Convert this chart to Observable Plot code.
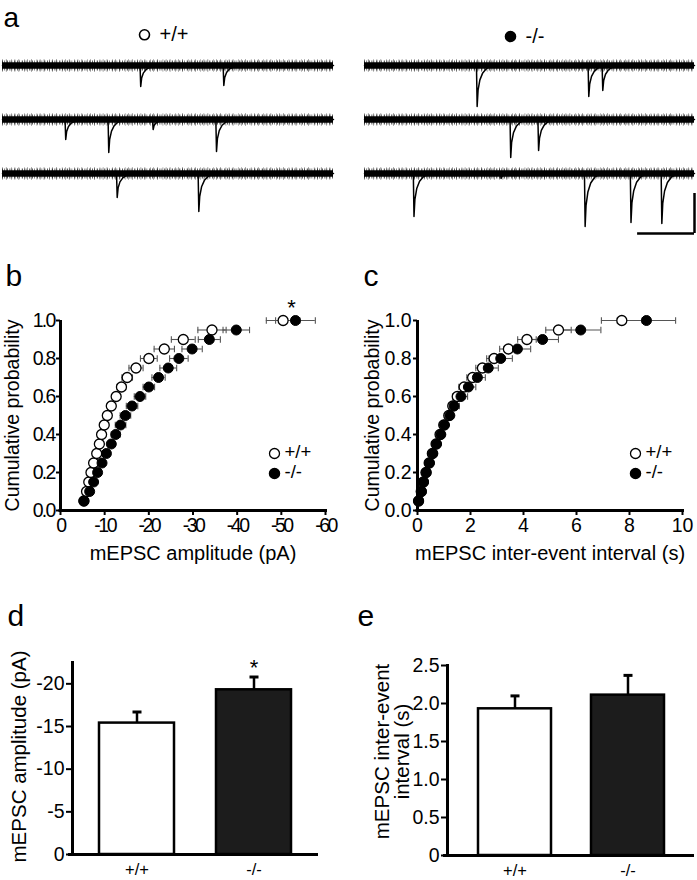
<!DOCTYPE html>
<html><head><meta charset="utf-8">
<script src="https://cdn.jsdelivr.net/npm/d3@7"></script>
<script src="https://cdn.jsdelivr.net/npm/@observablehq/plot@0.6"></script>
<style>
body{margin:0;background:#fff;}
#fig{position:relative;width:697px;height:880px;overflow:hidden;background:#fff;font-family:"Liberation Sans",Arial,Helvetica,sans-serif;}
.panel{position:absolute;}
.panel svg{overflow:visible;}
#pb g[aria-label="x-axis tick label"] text{letter-spacing:-2.5px;}
#pb g[aria-label="y-axis tick label"] text{letter-spacing:-1.8px;}
</style>
</head><body>
<div id="fig">
  <div class="panel" id="paL" style="left:0;top:0"></div>
  <div class="panel" id="paR" style="left:348px;top:0"></div>
  <div class="panel" id="pb" style="left:0;top:250px"></div>
  <div class="panel" id="pc" style="left:348px;top:250px"></div>
  <div class="panel" id="pd" style="left:0;top:595px"></div>
  <div class="panel" id="pe" style="left:348px;top:595px"></div>
</div>
<script>
// ---------------- DATA ----------------
const genotypes = ["+/+", "-/-"];

// Panel a: example sweeps (3 per genotype); event onset times (ms) and peak currents (pA)
const sweepMs = 2900;
const wtEventTimes = [[1205, 1933], [548, 925, 1314, 1869], [999, 1714]];
const wtEventAmps  = [[-10.5, -10], [-10, -16.5, -5, -16], [-12, -19]];
const koEventTimes = [[984, 1965, 2088], [1279, 1524], [429, 1194, 1933, 2336, 2607]];
const koEventAmps  = [[-20.5, -15.5, -12.5], [-19, -15.5], [-21.5, -2.5, -26.5, -24.5, -25]];
// mEPSC waveform: time after onset (ms) and fraction of peak
const eventShapeMs   = [0, 6, 14, 30, 55, 90, 140];
const eventShapeFrac = [0, 1, 0.6, 0.35, 0.18, 0.07, 0];
const scaleBarMs = 500;
const scaleBarPA = 20;

// Panel b: cumulative probability of mEPSC amplitude (pA), mean ± SEM
const cumProb = [0.05,0.10,0.15,0.20,0.25,0.30,0.35,0.40,0.45,0.50,0.55,0.60,0.65,0.70,0.75,0.80,0.85,0.90,0.95,1.00];
const ampWT    = [-5.3,-5.9,-6.4,-6.9,-7.5,-8.2,-8.8,-9.3,-9.9,-10.6,-11.5,-12.6,-13.8,-15.1,-17.1,-20.0,-23.5,-27.8,-34.3,-50.4];
const ampWTErr = [0.2,0.2,0.2,0.2,0.3,0.3,0.3,0.4,0.4,0.5,0.6,0.8,1.0,1.2,1.6,1.9,2.3,2.7,3.2,3.8];
const ampKO    = [-5.3,-6.6,-7.5,-8.4,-9.4,-10.4,-11.5,-12.5,-13.6,-14.7,-16.2,-18.0,-20.0,-22.2,-24.4,-26.8,-29.8,-33.7,-39.8,-53.2];
const ampKOErr = [0.2,0.3,0.3,0.4,0.5,0.6,0.8,1.0,1.2,1.2,1.3,1.3,1.3,1.5,1.9,2.1,2.3,2.5,3.0,4.5];
const ampXTicks = [0,-10,-20,-30,-40,-50,-60];
const probTicks = [0,0.2,0.4,0.6,0.8,1.0];

// Panel c: cumulative probability of inter-event interval (s), mean ± SEM
const iviWT    = [0.04,0.14,0.22,0.32,0.44,0.56,0.70,0.85,0.99,1.18,1.33,1.50,1.76,2.08,2.45,2.89,3.43,4.13,5.32,7.71];
const iviWTErr = [0.01,0.02,0.03,0.04,0.05,0.06,0.07,0.08,0.10,0.12,0.15,0.18,0.20,0.22,0.25,0.28,0.33,0.35,0.48,0.77];
const iviKO    = [0.04,0.15,0.23,0.33,0.45,0.58,0.72,0.88,1.02,1.22,1.38,1.64,1.92,2.26,2.67,3.14,3.77,4.72,6.16,8.64];
const iviKOErr = [0.01,0.02,0.03,0.04,0.05,0.06,0.07,0.08,0.10,0.13,0.20,0.25,0.28,0.30,0.38,0.44,0.50,0.60,0.76,1.10];
const iviXTicks = [0,2,4,6,8,10];

// Panel d: mean mEPSC amplitude (pA)
const ampMean = [-15.4, -19.3];
const ampSEM  = [1.3, 1.5];
const ampSig  = ["", "*"];
const ampYTicks = [0,-5,-10,-15,-20];
// Panel e: mean inter-event interval (s)
const iviMean = [1.93, 2.11];
const iviSEM  = [0.17, 0.26];
const iviYTicks = [0,0.5,1.0,1.5,2.0,2.5];

// ---------------- HELPERS ----------------
const FONT = "Liberation Sans, Arial, Helvetica, sans-serif";
const vbar = {draw(ctx, size){ const r = Math.sqrt(size/Math.PI); ctx.moveTo(0,-r); ctx.lineTo(0,r); }};
const hbar = {draw(ctx, size){ const r = Math.sqrt(size/Math.PI); ctx.moveTo(-r,0); ctx.lineTo(r,0); }};
const GRAY = "#555";

function tracePlot(times, amps, opts) {
  const rowGap = 27; // pA between stacked sweeps (layout)
  const pts = [];
  times.forEach((ts, k) => {
    pts.push({k, t: 0, i: 0});
    ts.forEach((t0, j) => {
      const next = j + 1 < ts.length ? ts[j+1] : sweepMs;
      eventShapeMs.forEach((dt, m) => {
        if (t0 + dt < next) pts.push({k, t: t0 + dt, i: amps[k][j] * eventShapeFrac[m]});
      });
    });
    pts.push({k, t: sweepMs, i: 0});
  });
  const rows = times.map((_, k) => ({k}));
  const Y = d => d.i - d.k * rowGap;
  const band = (w, dash, op) => Plot.ruleY(rows, {y: d => -d.k*rowGap, x1: () => 0, x2: () => sweepMs, stroke: "black", strokeWidth: w, strokeDasharray: dash, strokeOpacity: op});
  const marks = [
    band(6.5, null, 1),
    band(10, "0.8,1.3,0.6,2.1,1,1.7", 0.8),
    band(12.5, "0.6,3.3,0.7,4.9,0.5,2.6", 0.6),
    Plot.line(pts, {x: "t", y: Y, z: "k", stroke: "black", strokeWidth: 1.5, curve: "linear"}),
    Plot.dot([opts.label], {frameAnchor: "top-left", dx: opts.symDx, dy: opts.symDy, r: 5, fill: opts.filled ? "black" : "white", stroke: "black", strokeWidth: 1.6}),
    Plot.text([opts.label], {frameAnchor: "top-left", dx: opts.txtDx, dy: opts.symDy, text: d => d, textAnchor: "start", lineAnchor: "middle", fontSize: 20, fill: "black"})
  ];
  if (opts.panel) marks.push(Plot.text([opts.panel], {frameAnchor: "top-left", dx: 1, dy: -28, text: d => d, textAnchor: "start", lineAnchor: "bottom", fontSize: 28, fill: "black"}));
  if (opts.bar) {
    const lastRow = times.length - 1;
    const barTop = -10 - lastRow*rowGap, barBot = barTop - scaleBarPA;
    marks.push(Plot.ruleX([scaleBarPA], {x: () => sweepMs, y1: () => barTop, y2: () => barBot, stroke: "black", strokeWidth: 2.5}));
    marks.push(Plot.ruleY([scaleBarMs], {y: () => barBot, x1: () => sweepMs - scaleBarMs, x2: () => sweepMs, stroke: "black", strokeWidth: 2.5}));
  }
  return Plot.plot({
    width: opts.width, height: 240,
    marginTop: 54, marginBottom: 24, marginLeft: opts.ml, marginRight: opts.mr,
    x: {domain: [0, sweepMs], axis: null},
    y: {domain: [-2*rowGap - 21.5, 5.5], axis: null},
    style: {fontFamily: FONT, background: "transparent"},
    marks
  });
}

function cumPlot(o) {
  const wt = cumProb.map((p, i) => ({p, x: o.wt[i], e: o.wtErr[i]}));
  const ko = cumProb.map((p, i) => ({p, x: o.ko[i], e: o.koErr[i]}));
  const errMarks = rows => [
    Plot.ruleY(rows, {y: "p", x1: d => d.x - d.e, x2: d => d.x + d.e, stroke: GRAY, strokeWidth: 1.1}),
    Plot.dot(rows, {y: "p", x: d => d.x - d.e, symbol: vbar, r: 3.2, fill: "none", stroke: GRAY, strokeWidth: 1.1}),
    Plot.dot(rows, {y: "p", x: d => d.x + d.e, symbol: vbar, r: 3.2, fill: "none", stroke: GRAY, strokeWidth: 1.1})
  ];
  const marks = [
    ...errMarks(wt), ...errMarks(ko),
    Plot.dot(wt, {x: "x", y: "p", r: 5, fill: "white", stroke: "black", strokeWidth: 1.3}),
    Plot.dot(ko, {x: "x", y: "p", r: 5, fill: "black", stroke: "black", strokeWidth: 1}),
    Plot.ruleX([0], {strokeWidth: 3, insetBottom: -1.5, stroke: "black"}),
    Plot.ruleY([0], {strokeWidth: 3, insetLeft: -1.5, insetRight: -2, stroke: "black"}),
    Plot.axisX({ticks: o.xTicks, tickFormat: d => String(d), tickSize: 5, tickPadding: 3, fontSize: 19.5, strokeWidth: 2, label: null}),
    Plot.axisY({ticks: probTicks, tickFormat: d => d.toFixed(1), tickSize: 4, tickPadding: 2, fontSize: 19.5, strokeWidth: 2, label: null}),
    Plot.text([o.xTitle], {frameAnchor: "bottom", dy: 43, text: d => d, textAnchor: "middle", lineAnchor: "middle", fontSize: 20, fill: "black"}),
    Plot.text(["Cumulative probability"], {frameAnchor: "left", dx: o.yTitleDx, rotate: -90, text: d => d, textAnchor: "middle", lineAnchor: "middle", fontSize: 19.5, fill: "black"}),
    Plot.text([o.panel], {frameAnchor: "top-left", dx: o.panelDx, dy: -35, text: d => d, textAnchor: "start", lineAnchor: "bottom", fontSize: 30, fill: "black"}),
    Plot.dot([genotypes[0]], {frameAnchor: "bottom-right", dx: o.legDx, dy: -57, r: 5, fill: "white", stroke: "black", strokeWidth: 1.3}),
    Plot.dot([genotypes[1]], {frameAnchor: "bottom-right", dx: o.legDx, dy: -37, r: 5, fill: "black", stroke: "black"}),
    Plot.text([genotypes[0]], {frameAnchor: "bottom-right", dx: o.legDx + 10, dy: -58, text: d => d, textAnchor: "start", lineAnchor: "middle", fontSize: 18.5, fill: "black"}),
    Plot.text([genotypes[1]], {frameAnchor: "bottom-right", dx: o.legDx + 10, dy: -38, text: d => d, textAnchor: "start", lineAnchor: "middle", fontSize: 18.5, fill: "black"})
  ];
  if (o.star) marks.push(Plot.text([ko[ko.length-1]], {x: "x", y: "p", text: () => o.star, dx: -4, dy: -13, fontSize: 22, fill: "black"}));
  return Plot.plot({
    width: o.width, height: 320,
    marginTop: 70, marginBottom: 60, marginLeft: o.ml, marginRight: o.mr,
    x: {domain: o.xDomain},
    y: {domain: [0, 1]},
    style: {fontFamily: FONT, background: "transparent", color: "black"},
    marks
  });
}

function barPlot(o) {
  const rows = genotypes.map((g, i) => ({g, m: o.mean[i], e: o.sem[i], s: (o.sig || [])[i] || ""}));
  const marks = [
    Plot.ruleX(rows, {x: "g", y1: "m", y2: d => d.m + Math.sign(d.m) * d.e, stroke: "black", strokeWidth: 2.5}),
    Plot.dot(rows, {x: "g", y: d => d.m + Math.sign(d.m) * d.e, symbol: hbar, r: 4.5, fill: "none", stroke: "black", strokeWidth: 3}),
    Plot.barY(rows, {x: "g", y: "m", fill: d => d.g === genotypes[0] ? "white" : "#1c1c1c", stroke: "black", strokeWidth: 2.5}),
    Plot.ruleY([0], {strokeWidth: 3, insetLeft: -4, stroke: "black"}),
    Plot.frame({anchor: "left", strokeWidth: 3, stroke: "black"}),
    Plot.axisX({tickSize: 0, tickPadding: 9, fontSize: 16.5, label: null}),
    Plot.axisY({ticks: o.yTicks, tickFormat: o.fmt, tickSize: 6, tickPadding: 2, fontSize: 19.5, strokeWidth: 2, label: null}),
    Plot.text([o.yTitle], {frameAnchor: "left", dx: o.yTitleDx, dy: o.yTitleDy, rotate: -90, text: d => d, textAnchor: "middle", lineAnchor: "middle", fontSize: 20.5, lineHeight: 1.0, fill: "black"}),
    Plot.text([o.panel], {frameAnchor: "top-left", dx: o.panelDx, dy: o.panelDy, text: d => d, textAnchor: "start", lineAnchor: "bottom", fontSize: 30, fill: "black"})
  ];
  if (o.sig) marks.push(Plot.text(rows.filter(d => d.s), {x: "g", y: d => d.m + Math.sign(d.m) * d.e, text: "s", dy: -9.5, fontSize: 22, fill: "black"}));
  return Plot.plot({
    width: o.width, height: 285,
    marginTop: o.mt, marginBottom: o.mb, marginLeft: o.ml, marginRight: o.mr,
    x: {domain: genotypes, paddingInner: o.pi, paddingOuter: o.po},
    y: {domain: o.yDomain},
    style: {fontFamily: FONT, background: "transparent", color: "black"},
    marks
  });
}

// ---------------- RENDER ----------------
document.getElementById("paL").append(tracePlot(wtEventTimes, wtEventAmps,
  {width: 348, ml: 2, mr: 15, label: genotypes[0], filled: false, symDx: 142, symDy: -19.7, txtDx: 157, panel: "a"}));
document.getElementById("paR").append(tracePlot(koEventTimes, koEventAmps,
  {width: 349, ml: 16, mr: 3, label: genotypes[1], filled: true, symDx: 146, symDy: -18, txtDx: 161, bar: true}));

document.getElementById("pb").append(cumPlot({
  width: 348, ml: 60, mr: 23, wt: ampWT, wtErr: ampWTErr, ko: ampKO, koErr: ampKOErr,
  xDomain: [0, -60], xTicks: ampXTicks, xTitle: "mEPSC amplitude (pA)", yTitleDx: -48,
  panel: "b", panelDx: -55, legDx: -51, star: "*"
}));
document.getElementById("pc").append(cumPlot({
  width: 349, ml: 69, mr: 15, wt: iviWT, wtErr: iviWTErr, ko: iviKO, koErr: iviKOErr,
  xDomain: [0, 10], xTicks: iviXTicks, xTitle: "mEPSC inter-event interval (s)", yTitleDx: -45,
  panel: "c", panelDx: -54, legDx: -47
}));

document.getElementById("pd").append(barPlot({
  width: 348, ml: 72, mr: 30, mt: 67, mb: 26, mean: ampMean, sem: ampSEM, sig: ampSig,
  yDomain: [0, -22.5], yTicks: ampYTicks, fmt: d => String(d), pi: 0.36, po: 0.23,
  yTitle: "mEPSC amplitude (pA)", yTitleDx: -53, yTitleDy: -2, panel: "d", panelDx: -65, panelDy: -37
}));
document.getElementById("pe").append(barPlot({
  width: 349, ml: 99, mr: 3, mt: 70, mb: 25, mean: iviMean, sem: iviSEM,
  yDomain: [0, 2.5], yTicks: iviYTicks, fmt: d => d === 0 ? "0" : d.toFixed(1), pi: 0.357, po: 0.262,
  yTitle: "mEPSC inter-event\ninterval (s)", yTitleDx: -55, yTitleDy: -9, panel: "e", panelDx: -90, panelDy: -40
}));
</script>
</body></html>
